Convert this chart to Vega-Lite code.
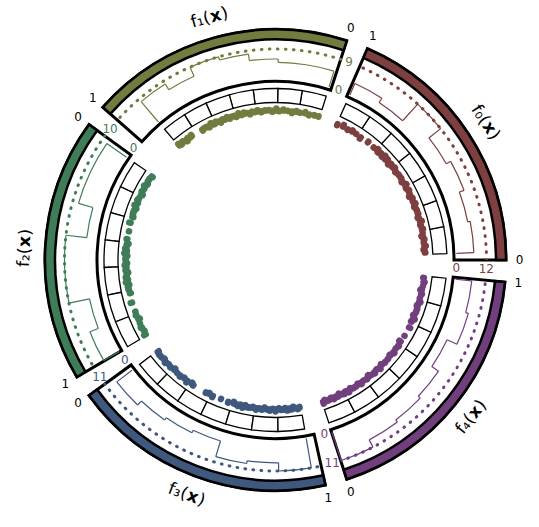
{
"$schema":"https://vega.github.io/schema/vega-lite/v6.json",
"width":527,"height":520,
"autosize":{"type":"none"},
"padding":{"left":12,"top":0,"right":0,"bottom":7},
"background":"white",
"config":{"view":{"stroke":null},"text":{"font":"DejaVu Sans"}},
"datasets":{
"sectors":[
{"s":"f0","max":12,"label":"f₀("},
{"s":"f1","max":9,"label":"f₁("},
{"s":"f2","max":10,"label":"f₂("},
{"s":"f3","max":11,"label":"f₃("},
{"s":"f4","max":11,"label":"f₄("}],
"bins":[
{"s":"f0","x0":0.032,"x1":0.169,"n":7},{"s":"f0","x0":0.169,"x1":0.305,"n":6},{"s":"f0","x0":0.305,"x1":0.442,"n":8},{"s":"f0","x0":0.442,"x1":0.579,"n":6},{"s":"f0","x0":0.579,"x1":0.716,"n":12},{"s":"f0","x0":0.716,"x1":0.852,"n":3},{"s":"f0","x0":0.852,"x1":0.989,"n":5},
{"s":"f1","x0":0.012,"x1":0.136,"n":5},{"s":"f1","x0":0.136,"x1":0.259,"n":5},{"s":"f1","x0":0.259,"x1":0.383,"n":6},{"s":"f1","x0":0.383,"x1":0.506,"n":8},{"s":"f1","x0":0.506,"x1":0.630,"n":9},{"s":"f1","x0":0.630,"x1":0.753,"n":6},{"s":"f1","x0":0.753,"x1":0.877,"n":8},
{"s":"f2","x0":0.021,"x1":0.161,"n":8},{"s":"f2","x0":0.161,"x1":0.300,"n":8},{"s":"f2","x0":0.300,"x1":0.440,"n":3},{"s":"f2","x0":0.440,"x1":0.579,"n":10},{"s":"f2","x0":0.579,"x1":0.719,"n":10},{"s":"f2","x0":0.719,"x1":0.859,"n":3},{"s":"f2","x0":0.859,"x1":0.998,"n":6},
{"s":"f3","x0":0.023,"x1":0.157,"n":7},{"s":"f3","x0":0.157,"x1":0.290,"n":5},{"s":"f3","x0":0.290,"x1":0.424,"n":4},{"s":"f3","x0":0.424,"x1":0.558,"n":3},{"s":"f3","x0":0.558,"x1":0.691,"n":9},{"s":"f3","x0":0.691,"x1":0.825,"n":8},{"s":"f3","x0":0.825,"x1":0.959,"n":11},
{"s":"f4","x0":0.002,"x1":0.143,"n":11},{"s":"f4","x0":0.143,"x1":0.285,"n":8},{"s":"f4","x0":0.285,"x1":0.426,"n":7},{"s":"f4","x0":0.426,"x1":0.567,"n":6},{"s":"f4","x0":0.567,"x1":0.708,"n":3},{"s":"f4","x0":0.708,"x1":0.850,"n":7},{"s":"f4","x0":0.850,"x1":0.991,"n":6}],
"edges":[
{"s":"f0","x":0.032,"a":0,"b":7},{"s":"f0","x":0.169,"a":7,"b":6},{"s":"f0","x":0.305,"a":6,"b":8},{"s":"f0","x":0.442,"a":8,"b":6},{"s":"f0","x":0.579,"a":6,"b":12},{"s":"f0","x":0.716,"a":12,"b":3},{"s":"f0","x":0.852,"a":3,"b":5},{"s":"f0","x":0.989,"a":5,"b":0},
{"s":"f1","x":0.012,"a":0,"b":5},{"s":"f1","x":0.136,"a":5,"b":5},{"s":"f1","x":0.259,"a":5,"b":6},{"s":"f1","x":0.383,"a":6,"b":8},{"s":"f1","x":0.506,"a":8,"b":9},{"s":"f1","x":0.630,"a":9,"b":6},{"s":"f1","x":0.753,"a":6,"b":8},{"s":"f1","x":0.877,"a":8,"b":0},
{"s":"f2","x":0.021,"a":0,"b":8},{"s":"f2","x":0.161,"a":8,"b":8},{"s":"f2","x":0.300,"a":8,"b":3},{"s":"f2","x":0.440,"a":3,"b":10},{"s":"f2","x":0.579,"a":10,"b":10},{"s":"f2","x":0.719,"a":10,"b":3},{"s":"f2","x":0.859,"a":3,"b":6},{"s":"f2","x":0.998,"a":6,"b":0},
{"s":"f3","x":0.023,"a":0,"b":7},{"s":"f3","x":0.157,"a":7,"b":5},{"s":"f3","x":0.290,"a":5,"b":4},{"s":"f3","x":0.424,"a":4,"b":3},{"s":"f3","x":0.558,"a":3,"b":9},{"s":"f3","x":0.691,"a":9,"b":8},{"s":"f3","x":0.825,"a":8,"b":11},{"s":"f3","x":0.959,"a":11,"b":0},
{"s":"f4","x":0.002,"a":0,"b":11},{"s":"f4","x":0.143,"a":11,"b":8},{"s":"f4","x":0.285,"a":8,"b":7},{"s":"f4","x":0.426,"a":7,"b":6},{"s":"f4","x":0.567,"a":6,"b":3},{"s":"f4","x":0.708,"a":3,"b":7},{"s":"f4","x":0.850,"a":7,"b":6},{"s":"f4","x":0.991,"a":6,"b":0}],
"pts":[
{"s":"f0","x":0.042,"j":0.3},{"s":"f0","x":0.060,"j":-0.6},{"s":"f0","x":0.081,"j":0.8},{"s":"f0","x":0.099,"j":-0.2},{"s":"f0","x":0.120,"j":0.5},{"s":"f0","x":0.139,"j":-0.9},{"s":"f0","x":0.160,"j":0.15},
{"s":"f0","x":0.180,"j":0.7},{"s":"f0","x":0.203,"j":-0.4},{"s":"f0","x":0.224,"j":1.0},{"s":"f0","x":0.248,"j":-0.7},{"s":"f0","x":0.271,"j":0.35},{"s":"f0","x":0.293,"j":0.3},
{"s":"f0","x":0.313,"j":-0.6},{"s":"f0","x":0.331,"j":0.8},{"s":"f0","x":0.347,"j":-0.2},{"s":"f0","x":0.365,"j":0.5},{"s":"f0","x":0.381,"j":-0.9},{"s":"f0","x":0.399,"j":0.15},{"s":"f0","x":0.416,"j":0.7},{"s":"f0","x":0.433,"j":-0.4},
{"s":"f0","x":0.453,"j":1.0},{"s":"f0","x":0.476,"j":-0.7},{"s":"f0","x":0.498,"j":0.35},{"s":"f0","x":0.521,"j":0.3},{"s":"f0","x":0.544,"j":-0.6},{"s":"f0","x":0.567,"j":0.8},
{"s":"f0","x":0.584,"j":-0.2},{"s":"f0","x":0.596,"j":0.5},{"s":"f0","x":0.607,"j":-0.9},{"s":"f0","x":0.619,"j":0.15},{"s":"f0","x":0.630,"j":0.7},{"s":"f0","x":0.641,"j":-0.4},{"s":"f0","x":0.653,"j":1.0},{"s":"f0","x":0.664,"j":-0.7},{"s":"f0","x":0.676,"j":0.35},{"s":"f0","x":0.687,"j":0.3},{"s":"f0","x":0.698,"j":-0.6},{"s":"f0","x":0.710,"j":0.8},
{"s":"f0","x":0.735,"j":-0.2},{"s":"f0","x":0.780,"j":0.5},{"s":"f0","x":0.830,"j":-0.9},
{"s":"f0","x":0.862,"j":0.15},{"s":"f0","x":0.890,"j":0.7},{"s":"f0","x":0.918,"j":-0.4},{"s":"f0","x":0.950,"j":1.0},{"s":"f0","x":0.984,"j":-0.7},
{"s":"f1","x":0.020,"j":0.35},{"s":"f1","x":0.045,"j":0.3},{"s":"f1","x":0.075,"j":-0.6},{"s":"f1","x":0.100,"j":0.8},{"s":"f1","x":0.128,"j":-0.2},
{"s":"f1","x":0.150,"j":0.5},{"s":"f1","x":0.175,"j":-0.9},{"s":"f1","x":0.200,"j":0.15},{"s":"f1","x":0.225,"j":0.7},{"s":"f1","x":0.250,"j":-0.4},
{"s":"f1","x":0.266,"j":1.0},{"s":"f1","x":0.288,"j":-0.7},{"s":"f1","x":0.308,"j":0.35},{"s":"f1","x":0.330,"j":0.3},{"s":"f1","x":0.352,"j":-0.6},{"s":"f1","x":0.375,"j":0.8},
{"s":"f1","x":0.390,"j":-0.2},{"s":"f1","x":0.405,"j":0.5},{"s":"f1","x":0.420,"j":-0.9},{"s":"f1","x":0.436,"j":0.15},{"s":"f1","x":0.452,"j":0.7},{"s":"f1","x":0.468,"j":-0.4},{"s":"f1","x":0.484,"j":1.0},{"s":"f1","x":0.500,"j":-0.7},
{"s":"f1","x":0.512,"j":0.35},{"s":"f1","x":0.526,"j":0.3},{"s":"f1","x":0.540,"j":-0.6},{"s":"f1","x":0.554,"j":0.8},{"s":"f1","x":0.568,"j":-0.2},{"s":"f1","x":0.582,"j":0.5},{"s":"f1","x":0.596,"j":-0.9},{"s":"f1","x":0.610,"j":0.15},{"s":"f1","x":0.624,"j":0.7},
{"s":"f1","x":0.636,"j":-0.4},{"s":"f1","x":0.652,"j":1.0},{"s":"f1","x":0.668,"j":-0.7},{"s":"f1","x":0.684,"j":0.35},{"s":"f1","x":0.698,"j":0.3},{"s":"f1","x":0.712,"j":-0.6},
{"s":"f1","x":0.782,"j":0.8},{"s":"f1","x":0.795,"j":-0.2},{"s":"f1","x":0.808,"j":0.5},{"s":"f1","x":0.820,"j":-0.9},{"s":"f1","x":0.832,"j":0.15},{"s":"f1","x":0.845,"j":0.7},{"s":"f1","x":0.858,"j":-0.4},{"s":"f1","x":0.872,"j":1.0},
{"s":"f2","x":0.030,"j":-0.7},{"s":"f2","x":0.047,"j":0.35},{"s":"f2","x":0.064,"j":0.3},{"s":"f2","x":0.081,"j":-0.6},{"s":"f2","x":0.098,"j":0.8},{"s":"f2","x":0.115,"j":-0.2},{"s":"f2","x":0.133,"j":0.5},{"s":"f2","x":0.150,"j":-0.9},
{"s":"f2","x":0.170,"j":0.15},{"s":"f2","x":0.187,"j":0.7},{"s":"f2","x":0.204,"j":-0.4},{"s":"f2","x":0.221,"j":1.0},{"s":"f2","x":0.238,"j":-0.7},{"s":"f2","x":0.255,"j":0.35},{"s":"f2","x":0.272,"j":0.3},{"s":"f2","x":0.290,"j":-0.6},
{"s":"f2","x":0.325,"j":0.8},{"s":"f2","x":0.375,"j":-0.2},{"s":"f2","x":0.420,"j":0.5},
{"s":"f2","x":0.447,"j":-0.9},{"s":"f2","x":0.461,"j":0.15},{"s":"f2","x":0.475,"j":0.7},{"s":"f2","x":0.489,"j":-0.4},{"s":"f2","x":0.503,"j":1.0},{"s":"f2","x":0.517,"j":-0.7},{"s":"f2","x":0.531,"j":0.35},{"s":"f2","x":0.545,"j":0.3},{"s":"f2","x":0.559,"j":-0.6},{"s":"f2","x":0.572,"j":0.8},
{"s":"f2","x":0.586,"j":-0.2},{"s":"f2","x":0.600,"j":0.5},{"s":"f2","x":0.614,"j":-0.9},{"s":"f2","x":0.628,"j":0.15},{"s":"f2","x":0.642,"j":0.7},{"s":"f2","x":0.656,"j":-0.4},{"s":"f2","x":0.670,"j":1.0},{"s":"f2","x":0.684,"j":-0.7},{"s":"f2","x":0.698,"j":0.35},{"s":"f2","x":0.712,"j":0.3},
{"s":"f2","x":0.735,"j":-0.6},{"s":"f2","x":0.790,"j":0.8},{"s":"f2","x":0.845,"j":-0.2},
{"s":"f2","x":0.868,"j":0.5},{"s":"f2","x":0.893,"j":-0.9},{"s":"f2","x":0.918,"j":0.15},{"s":"f2","x":0.943,"j":0.7},{"s":"f2","x":0.967,"j":-0.4},{"s":"f2","x":0.990,"j":1.0},
{"s":"f3","x":0.030,"j":-0.7},{"s":"f3","x":0.048,"j":0.35},{"s":"f3","x":0.066,"j":0.3},{"s":"f3","x":0.085,"j":-0.6},{"s":"f3","x":0.104,"j":0.8},{"s":"f3","x":0.124,"j":-0.2},{"s":"f3","x":0.145,"j":0.5},
{"s":"f3","x":0.170,"j":-0.9},{"s":"f3","x":0.195,"j":0.15},{"s":"f3","x":0.220,"j":0.7},{"s":"f3","x":0.245,"j":-0.4},{"s":"f3","x":0.270,"j":1.0},
{"s":"f3","x":0.298,"j":-0.7},{"s":"f3","x":0.312,"j":0.35},{"s":"f3","x":0.395,"j":0.3},{"s":"f3","x":0.415,"j":-0.6},
{"s":"f3","x":0.440,"j":0.8},{"s":"f3","x":0.490,"j":-0.2},{"s":"f3","x":0.535,"j":0.5},
{"s":"f3","x":0.566,"j":-0.9},{"s":"f3","x":0.580,"j":0.15},{"s":"f3","x":0.594,"j":0.7},{"s":"f3","x":0.608,"j":-0.4},{"s":"f3","x":0.622,"j":1.0},{"s":"f3","x":0.636,"j":-0.7},{"s":"f3","x":0.650,"j":0.35},{"s":"f3","x":0.665,"j":0.3},{"s":"f3","x":0.680,"j":-0.6},
{"s":"f3","x":0.700,"j":0.8},{"s":"f3","x":0.716,"j":-0.2},{"s":"f3","x":0.732,"j":0.5},{"s":"f3","x":0.748,"j":-0.9},{"s":"f3","x":0.764,"j":0.15},{"s":"f3","x":0.780,"j":0.7},{"s":"f3","x":0.796,"j":-0.4},{"s":"f3","x":0.812,"j":1.0},
{"s":"f3","x":0.832,"j":-0.7},{"s":"f3","x":0.844,"j":0.35},{"s":"f3","x":0.856,"j":0.3},{"s":"f3","x":0.868,"j":-0.6},{"s":"f3","x":0.880,"j":0.8},{"s":"f3","x":0.892,"j":-0.2},{"s":"f3","x":0.904,"j":0.5},{"s":"f3","x":0.916,"j":-0.9},{"s":"f3","x":0.928,"j":0.15},{"s":"f3","x":0.940,"j":0.7},{"s":"f3","x":0.952,"j":-0.4},
{"s":"f4","x":0.008,"j":1.0},{"s":"f4","x":0.020,"j":-0.7},{"s":"f4","x":0.033,"j":0.35},{"s":"f4","x":0.046,"j":0.3},{"s":"f4","x":0.059,"j":-0.6},{"s":"f4","x":0.072,"j":0.8},{"s":"f4","x":0.085,"j":-0.2},{"s":"f4","x":0.098,"j":0.5},{"s":"f4","x":0.111,"j":-0.9},{"s":"f4","x":0.124,"j":0.15},{"s":"f4","x":0.137,"j":0.7},
{"s":"f4","x":0.150,"j":-0.4},{"s":"f4","x":0.167,"j":1.0},{"s":"f4","x":0.184,"j":-0.7},{"s":"f4","x":0.201,"j":0.35},{"s":"f4","x":0.218,"j":0.3},{"s":"f4","x":0.235,"j":-0.6},{"s":"f4","x":0.252,"j":0.8},{"s":"f4","x":0.270,"j":-0.2},
{"s":"f4","x":0.293,"j":0.5},{"s":"f4","x":0.312,"j":-0.9},{"s":"f4","x":0.331,"j":0.15},{"s":"f4","x":0.350,"j":0.7},{"s":"f4","x":0.370,"j":-0.4},{"s":"f4","x":0.390,"j":1.0},{"s":"f4","x":0.412,"j":-0.7},
{"s":"f4","x":0.435,"j":0.35},{"s":"f4","x":0.460,"j":0.3},{"s":"f4","x":0.485,"j":-0.6},{"s":"f4","x":0.510,"j":0.8},{"s":"f4","x":0.535,"j":-0.2},{"s":"f4","x":0.558,"j":0.5},
{"s":"f4","x":0.585,"j":-0.9},{"s":"f4","x":0.625,"j":0.15},{"s":"f4","x":0.680,"j":0.7},
{"s":"f4","x":0.716,"j":-0.4},{"s":"f4","x":0.735,"j":1.0},{"s":"f4","x":0.755,"j":-0.7},{"s":"f4","x":0.775,"j":0.35},{"s":"f4","x":0.795,"j":0.3},{"s":"f4","x":0.815,"j":-0.6},{"s":"f4","x":0.838,"j":0.8},
{"s":"f4","x":0.860,"j":-0.2},{"s":"f4","x":0.885,"j":0.5},{"s":"f4","x":0.908,"j":-0.9},{"s":"f4","x":0.930,"j":0.15},{"s":"f4","x":0.955,"j":0.7},{"s":"f4","x":0.980,"j":-0.4}]
},
"resolve":{"scale":{"theta":"independent","radius":"independent"}},
"layer":[
{"resolve":{"scale":{"radius":"independent"}},"layer":[
{"data":{"name":"sectors"},"transform":[{"filter":"datum.s=='f0'"}],"mark":{"type":"arc","fill":"white","stroke":"black","strokeWidth":3},"encoding":{"theta":{"datum":0,"type":"quantitative","scale":{"domain":[0,1],"range":[1.570796,0.410152]}},"theta2":{"datum":1},"radius":{"value":230.5},"radius2":{"value":178.5}}},
{"data":{"name":"sectors"},"transform":[{"filter":"datum.s=='f0'"}],"mark":{"type":"arc","fill":"#7d3f3f","stroke":"black","strokeWidth":2.5},"encoding":{"theta":{"datum":0,"type":"quantitative","scale":{"domain":[0,1],"range":[1.570796,0.410152]}},"theta2":{"datum":1},"radius":{"value":230.5},"radius2":{"value":220.5}}},
{"data":{"name":"sectors"},"transform":[{"filter":"datum.s=='f0'"}],"mark":{"type":"arc","filled":false,"stroke":"#7d3f3f","strokeWidth":3,"strokeDash":[0.5,7.5294],"strokeDashOffset":0.25,"strokeCap":"round"},"encoding":{"theta":{"datum":0,"type":"quantitative","scale":{"domain":[0,1],"range":[1.570796,0.410152]}},"theta2":{"datum":1},"radius":{"field":"max","type":"quantitative","scale":{"type":"linear","zero":false,"domain":[0,12],"range":[181,211]}},"radius2":{"field":"max"}}},
{"data":{"name":"bins"},"transform":[{"filter":"datum.s=='f0'"}],"mark":{"type":"arc","filled":false,"stroke":"#7d3f3f","strokeWidth":1.2},"encoding":{"theta":{"field":"x0","type":"quantitative","scale":{"domain":[0,1],"range":[1.570796,0.410152]}},"theta2":{"field":"x1"},"radius":{"field":"n","type":"quantitative","scale":{"type":"linear","zero":false,"domain":[0,12],"range":[181,211]}},"radius2":{"field":"n"}}},
{"data":{"name":"edges"},"transform":[{"filter":"datum.s=='f0'"}],"mark":{"type":"arc","filled":false,"stroke":"#7d3f3f","strokeWidth":1.2},"encoding":{"theta":{"field":"x","type":"quantitative","scale":{"domain":[0,1],"range":[1.570796,0.410152]}},"theta2":{"field":"x"},"radius":{"field":"a","type":"quantitative","scale":{"type":"linear","zero":false,"domain":[0,12],"range":[181,211]}},"radius2":{"field":"b"}}},
{"data":{"name":"bins"},"transform":[{"filter":"datum.s=='f0'"}],"mark":{"type":"arc","fill":"white","stroke":"black","strokeWidth":1.3},"encoding":{"theta":{"field":"x0","type":"quantitative","scale":{"domain":[0,1],"range":[1.570796,0.410152]}},"theta2":{"field":"x1"},"radius":{"value":171.5},"radius2":{"value":157.5}}},
{"data":{"name":"pts"},"transform":[{"filter":"datum.s=='f0'"}],"mark":{"type":"arc","filled":false,"stroke":"#7d3f3f","strokeWidth":6.3,"strokeCap":"round","strokeJoin":"round"},"encoding":{"theta":{"field":"x","type":"quantitative","scale":{"domain":[0,1],"range":[1.570796,0.410152]}},"theta2":{"field":"x"},"radius":{"field":"j","type":"quantitative","scale":{"type":"linear","zero":false,"domain":[-1,1],"range":[147.5,151.5]}},"radius2":{"value":149.5}}},
{"data":{"name":"sectors"},"transform":[{"filter":"datum.s=='f0'"}],"mark":{"type":"text","text":"1","fontSize":12,"color":"black"},"encoding":{"theta":{"datum":1,"type":"quantitative","scale":{"domain":[0,1],"range":[1.570796,0.410152]}},"radius":{"value":244}}},
{"data":{"name":"sectors"},"transform":[{"filter":"datum.s=='f0'"}],"mark":{"type":"text","text":"0","fontSize":12,"color":"black"},"encoding":{"theta":{"datum":0,"type":"quantitative","scale":{"domain":[0,1],"range":[1.570796,0.410152]}},"radius":{"value":244}}},
{"data":{"name":"sectors"},"transform":[{"filter":"datum.s=='f0'"}],"mark":{"type":"text","text":"0","fontSize":12,"color":"#7d3f3f"},"encoding":{"theta":{"datum":-0.036,"type":"quantitative","scale":{"domain":[0,1],"range":[1.570796,0.410152]}},"radius":{"datum":0,"type":"quantitative","scale":{"type":"linear","zero":false,"domain":[0,12],"range":[181,211]}}}},
{"data":{"name":"sectors"},"transform":[{"filter":"datum.s=='f0'"}],"mark":{"type":"text","fontSize":12,"color":"#7d3f3f"},"encoding":{"text":{"field":"max","type":"quantitative"},"theta":{"datum":-0.036,"type":"quantitative","scale":{"domain":[0,1],"range":[1.570796,0.410152]}},"radius":{"field":"max","type":"quantitative","scale":{"type":"linear","zero":false,"domain":[0,12],"range":[181,211]}}}},
{"data":{"name":"sectors"},"transform":[{"filter":"datum.s=='f0'"}],"mark":{"type":"text","fontSize":17,"angle":56.75,"align":"right","dx":0.4,"color":"black"},"encoding":{"text":{"field":"label"},"theta":{"datum":0.5,"type":"quantitative","scale":{"domain":[0,1],"range":[1.570796,0.410152]}},"radius":{"value":251}}},
{"data":{"name":"sectors"},"transform":[{"filter":"datum.s=='f0'"}],"mark":{"type":"text","text":"x","fontSize":17,"fontWeight":"bold","angle":56.75,"align":"center","dx":6.45,"color":"black"},"encoding":{"theta":{"datum":0.5,"type":"quantitative","scale":{"domain":[0,1],"range":[1.570796,0.410152]}},"radius":{"value":251}}},
{"data":{"name":"sectors"},"transform":[{"filter":"datum.s=='f0'"}],"mark":{"type":"text","text":")","fontSize":17,"angle":56.75,"align":"left","dx":12.5,"color":"black"},"encoding":{"theta":{"datum":0.5,"type":"quantitative","scale":{"domain":[0,1],"range":[1.570796,0.410152]}},"radius":{"value":251}}}
]},
{"resolve":{"scale":{"radius":"independent"}},"layer":[
{"data":{"name":"sectors"},"transform":[{"filter":"datum.s=='f1'"}],"mark":{"type":"arc","fill":"white","stroke":"black","strokeWidth":3},"encoding":{"theta":{"datum":0,"type":"quantitative","scale":{"domain":[0,1],"range":[0.314159,-0.846485]}},"theta2":{"datum":1},"radius":{"value":230.5},"radius2":{"value":178.5}}},
{"data":{"name":"sectors"},"transform":[{"filter":"datum.s=='f1'"}],"mark":{"type":"arc","fill":"#717d3f","stroke":"black","strokeWidth":2.5},"encoding":{"theta":{"datum":0,"type":"quantitative","scale":{"domain":[0,1],"range":[0.314159,-0.846485]}},"theta2":{"datum":1},"radius":{"value":230.5},"radius2":{"value":220.5}}},
{"data":{"name":"sectors"},"transform":[{"filter":"datum.s=='f1'"}],"mark":{"type":"arc","filled":false,"stroke":"#717d3f","strokeWidth":3,"strokeDash":[0.5,7.5294],"strokeDashOffset":0.25,"strokeCap":"round"},"encoding":{"theta":{"datum":0,"type":"quantitative","scale":{"domain":[0,1],"range":[0.314159,-0.846485]}},"theta2":{"datum":1},"radius":{"field":"max","type":"quantitative","scale":{"type":"linear","zero":false,"domain":[0,9],"range":[181,211]}},"radius2":{"field":"max"}}},
{"data":{"name":"bins"},"transform":[{"filter":"datum.s=='f1'"}],"mark":{"type":"arc","filled":false,"stroke":"#717d3f","strokeWidth":1.2},"encoding":{"theta":{"field":"x0","type":"quantitative","scale":{"domain":[0,1],"range":[0.314159,-0.846485]}},"theta2":{"field":"x1"},"radius":{"field":"n","type":"quantitative","scale":{"type":"linear","zero":false,"domain":[0,9],"range":[181,211]}},"radius2":{"field":"n"}}},
{"data":{"name":"edges"},"transform":[{"filter":"datum.s=='f1'"}],"mark":{"type":"arc","filled":false,"stroke":"#717d3f","strokeWidth":1.2},"encoding":{"theta":{"field":"x","type":"quantitative","scale":{"domain":[0,1],"range":[0.314159,-0.846485]}},"theta2":{"field":"x"},"radius":{"field":"a","type":"quantitative","scale":{"type":"linear","zero":false,"domain":[0,9],"range":[181,211]}},"radius2":{"field":"b"}}},
{"data":{"name":"bins"},"transform":[{"filter":"datum.s=='f1'"}],"mark":{"type":"arc","fill":"white","stroke":"black","strokeWidth":1.3},"encoding":{"theta":{"field":"x0","type":"quantitative","scale":{"domain":[0,1],"range":[0.314159,-0.846485]}},"theta2":{"field":"x1"},"radius":{"value":171.5},"radius2":{"value":157.5}}},
{"data":{"name":"pts"},"transform":[{"filter":"datum.s=='f1'"}],"mark":{"type":"arc","filled":false,"stroke":"#717d3f","strokeWidth":6.3,"strokeCap":"round","strokeJoin":"round"},"encoding":{"theta":{"field":"x","type":"quantitative","scale":{"domain":[0,1],"range":[0.314159,-0.846485]}},"theta2":{"field":"x"},"radius":{"field":"j","type":"quantitative","scale":{"type":"linear","zero":false,"domain":[-1,1],"range":[147.5,151.5]}},"radius2":{"value":149.5}}},
{"data":{"name":"sectors"},"transform":[{"filter":"datum.s=='f1'"}],"mark":{"type":"text","text":"1","fontSize":12,"color":"black"},"encoding":{"theta":{"datum":1,"type":"quantitative","scale":{"domain":[0,1],"range":[0.314159,-0.846485]}},"radius":{"value":244}}},
{"data":{"name":"sectors"},"transform":[{"filter":"datum.s=='f1'"}],"mark":{"type":"text","text":"0","fontSize":12,"color":"black"},"encoding":{"theta":{"datum":0,"type":"quantitative","scale":{"domain":[0,1],"range":[0.314159,-0.846485]}},"radius":{"value":244}}},
{"data":{"name":"sectors"},"transform":[{"filter":"datum.s=='f1'"}],"mark":{"type":"text","text":"0","fontSize":12,"color":"#717d3f"},"encoding":{"theta":{"datum":-0.036,"type":"quantitative","scale":{"domain":[0,1],"range":[0.314159,-0.846485]}},"radius":{"datum":0,"type":"quantitative","scale":{"type":"linear","zero":false,"domain":[0,9],"range":[181,211]}}}},
{"data":{"name":"sectors"},"transform":[{"filter":"datum.s=='f1'"}],"mark":{"type":"text","fontSize":12,"color":"#717d3f"},"encoding":{"text":{"field":"max","type":"quantitative"},"theta":{"datum":-0.036,"type":"quantitative","scale":{"domain":[0,1],"range":[0.314159,-0.846485]}},"radius":{"field":"max","type":"quantitative","scale":{"type":"linear","zero":false,"domain":[0,9],"range":[181,211]}}}},
{"data":{"name":"sectors"},"transform":[{"filter":"datum.s=='f1'"}],"mark":{"type":"text","fontSize":17,"angle":-15.25,"align":"right","dx":0.4,"color":"black"},"encoding":{"text":{"field":"label"},"theta":{"datum":0.5,"type":"quantitative","scale":{"domain":[0,1],"range":[0.314159,-0.846485]}},"radius":{"value":251}}},
{"data":{"name":"sectors"},"transform":[{"filter":"datum.s=='f1'"}],"mark":{"type":"text","text":"x","fontSize":17,"fontWeight":"bold","angle":-15.25,"align":"center","dx":6.45,"color":"black"},"encoding":{"theta":{"datum":0.5,"type":"quantitative","scale":{"domain":[0,1],"range":[0.314159,-0.846485]}},"radius":{"value":251}}},
{"data":{"name":"sectors"},"transform":[{"filter":"datum.s=='f1'"}],"mark":{"type":"text","text":")","fontSize":17,"angle":-15.25,"align":"left","dx":12.5,"color":"black"},"encoding":{"theta":{"datum":0.5,"type":"quantitative","scale":{"domain":[0,1],"range":[0.314159,-0.846485]}},"radius":{"value":251}}}
]},
{"resolve":{"scale":{"radius":"independent"}},"layer":[
{"data":{"name":"sectors"},"transform":[{"filter":"datum.s=='f2'"}],"mark":{"type":"arc","fill":"white","stroke":"black","strokeWidth":3},"encoding":{"theta":{"datum":0,"type":"quantitative","scale":{"domain":[0,1],"range":[5.340708,4.180064]}},"theta2":{"datum":1},"radius":{"value":230.5},"radius2":{"value":178.5}}},
{"data":{"name":"sectors"},"transform":[{"filter":"datum.s=='f2'"}],"mark":{"type":"arc","fill":"#3f7d58","stroke":"black","strokeWidth":2.5},"encoding":{"theta":{"datum":0,"type":"quantitative","scale":{"domain":[0,1],"range":[5.340708,4.180064]}},"theta2":{"datum":1},"radius":{"value":230.5},"radius2":{"value":220.5}}},
{"data":{"name":"sectors"},"transform":[{"filter":"datum.s=='f2'"}],"mark":{"type":"arc","filled":false,"stroke":"#3f7d58","strokeWidth":3,"strokeDash":[0.5,7.5294],"strokeDashOffset":0.25,"strokeCap":"round"},"encoding":{"theta":{"datum":0,"type":"quantitative","scale":{"domain":[0,1],"range":[5.340708,4.180064]}},"theta2":{"datum":1},"radius":{"field":"max","type":"quantitative","scale":{"type":"linear","zero":false,"domain":[0,10],"range":[181,211]}},"radius2":{"field":"max"}}},
{"data":{"name":"bins"},"transform":[{"filter":"datum.s=='f2'"}],"mark":{"type":"arc","filled":false,"stroke":"#3f7d58","strokeWidth":1.2},"encoding":{"theta":{"field":"x0","type":"quantitative","scale":{"domain":[0,1],"range":[5.340708,4.180064]}},"theta2":{"field":"x1"},"radius":{"field":"n","type":"quantitative","scale":{"type":"linear","zero":false,"domain":[0,10],"range":[181,211]}},"radius2":{"field":"n"}}},
{"data":{"name":"edges"},"transform":[{"filter":"datum.s=='f2'"}],"mark":{"type":"arc","filled":false,"stroke":"#3f7d58","strokeWidth":1.2},"encoding":{"theta":{"field":"x","type":"quantitative","scale":{"domain":[0,1],"range":[5.340708,4.180064]}},"theta2":{"field":"x"},"radius":{"field":"a","type":"quantitative","scale":{"type":"linear","zero":false,"domain":[0,10],"range":[181,211]}},"radius2":{"field":"b"}}},
{"data":{"name":"bins"},"transform":[{"filter":"datum.s=='f2'"}],"mark":{"type":"arc","fill":"white","stroke":"black","strokeWidth":1.3},"encoding":{"theta":{"field":"x0","type":"quantitative","scale":{"domain":[0,1],"range":[5.340708,4.180064]}},"theta2":{"field":"x1"},"radius":{"value":171.5},"radius2":{"value":157.5}}},
{"data":{"name":"pts"},"transform":[{"filter":"datum.s=='f2'"}],"mark":{"type":"arc","filled":false,"stroke":"#3f7d58","strokeWidth":6.3,"strokeCap":"round","strokeJoin":"round"},"encoding":{"theta":{"field":"x","type":"quantitative","scale":{"domain":[0,1],"range":[5.340708,4.180064]}},"theta2":{"field":"x"},"radius":{"field":"j","type":"quantitative","scale":{"type":"linear","zero":false,"domain":[-1,1],"range":[147.5,151.5]}},"radius2":{"value":149.5}}},
{"data":{"name":"sectors"},"transform":[{"filter":"datum.s=='f2'"}],"mark":{"type":"text","text":"1","fontSize":12,"color":"black"},"encoding":{"theta":{"datum":1,"type":"quantitative","scale":{"domain":[0,1],"range":[5.340708,4.180064]}},"radius":{"value":244}}},
{"data":{"name":"sectors"},"transform":[{"filter":"datum.s=='f2'"}],"mark":{"type":"text","text":"0","fontSize":12,"color":"black"},"encoding":{"theta":{"datum":0,"type":"quantitative","scale":{"domain":[0,1],"range":[5.340708,4.180064]}},"radius":{"value":244}}},
{"data":{"name":"sectors"},"transform":[{"filter":"datum.s=='f2'"}],"mark":{"type":"text","text":"0","fontSize":12,"color":"#3f7d58"},"encoding":{"theta":{"datum":-0.036,"type":"quantitative","scale":{"domain":[0,1],"range":[5.340708,4.180064]}},"radius":{"datum":0,"type":"quantitative","scale":{"type":"linear","zero":false,"domain":[0,10],"range":[181,211]}}}},
{"data":{"name":"sectors"},"transform":[{"filter":"datum.s=='f2'"}],"mark":{"type":"text","fontSize":12,"color":"#3f7d58"},"encoding":{"text":{"field":"max","type":"quantitative"},"theta":{"datum":-0.036,"type":"quantitative","scale":{"domain":[0,1],"range":[5.340708,4.180064]}},"radius":{"field":"max","type":"quantitative","scale":{"type":"linear","zero":false,"domain":[0,10],"range":[181,211]}}}},
{"data":{"name":"sectors"},"transform":[{"filter":"datum.s=='f2'"}],"mark":{"type":"text","fontSize":17,"angle":-87.25,"align":"right","dx":0.4,"color":"black"},"encoding":{"text":{"field":"label"},"theta":{"datum":0.5,"type":"quantitative","scale":{"domain":[0,1],"range":[5.340708,4.180064]}},"radius":{"value":251}}},
{"data":{"name":"sectors"},"transform":[{"filter":"datum.s=='f2'"}],"mark":{"type":"text","text":"x","fontSize":17,"fontWeight":"bold","angle":-87.25,"align":"center","dx":6.45,"color":"black"},"encoding":{"theta":{"datum":0.5,"type":"quantitative","scale":{"domain":[0,1],"range":[5.340708,4.180064]}},"radius":{"value":251}}},
{"data":{"name":"sectors"},"transform":[{"filter":"datum.s=='f2'"}],"mark":{"type":"text","text":")","fontSize":17,"angle":-87.25,"align":"left","dx":12.5,"color":"black"},"encoding":{"theta":{"datum":0.5,"type":"quantitative","scale":{"domain":[0,1],"range":[5.340708,4.180064]}},"radius":{"value":251}}}
]},
{"resolve":{"scale":{"radius":"independent"}},"layer":[
{"data":{"name":"sectors"},"transform":[{"filter":"datum.s=='f3'"}],"mark":{"type":"arc","fill":"white","stroke":"black","strokeWidth":3},"encoding":{"theta":{"datum":0,"type":"quantitative","scale":{"domain":[0,1],"range":[4.084070,2.923426]}},"theta2":{"datum":1},"radius":{"value":230.5},"radius2":{"value":178.5}}},
{"data":{"name":"sectors"},"transform":[{"filter":"datum.s=='f3'"}],"mark":{"type":"arc","fill":"#3f587d","stroke":"black","strokeWidth":2.5},"encoding":{"theta":{"datum":0,"type":"quantitative","scale":{"domain":[0,1],"range":[4.084070,2.923426]}},"theta2":{"datum":1},"radius":{"value":230.5},"radius2":{"value":220.5}}},
{"data":{"name":"sectors"},"transform":[{"filter":"datum.s=='f3'"}],"mark":{"type":"arc","filled":false,"stroke":"#3f587d","strokeWidth":3,"strokeDash":[0.5,7.5294],"strokeDashOffset":0.25,"strokeCap":"round"},"encoding":{"theta":{"datum":0,"type":"quantitative","scale":{"domain":[0,1],"range":[4.084070,2.923426]}},"theta2":{"datum":1},"radius":{"field":"max","type":"quantitative","scale":{"type":"linear","zero":false,"domain":[0,11],"range":[181,211]}},"radius2":{"field":"max"}}},
{"data":{"name":"bins"},"transform":[{"filter":"datum.s=='f3'"}],"mark":{"type":"arc","filled":false,"stroke":"#3f587d","strokeWidth":1.2},"encoding":{"theta":{"field":"x0","type":"quantitative","scale":{"domain":[0,1],"range":[4.084070,2.923426]}},"theta2":{"field":"x1"},"radius":{"field":"n","type":"quantitative","scale":{"type":"linear","zero":false,"domain":[0,11],"range":[181,211]}},"radius2":{"field":"n"}}},
{"data":{"name":"edges"},"transform":[{"filter":"datum.s=='f3'"}],"mark":{"type":"arc","filled":false,"stroke":"#3f587d","strokeWidth":1.2},"encoding":{"theta":{"field":"x","type":"quantitative","scale":{"domain":[0,1],"range":[4.084070,2.923426]}},"theta2":{"field":"x"},"radius":{"field":"a","type":"quantitative","scale":{"type":"linear","zero":false,"domain":[0,11],"range":[181,211]}},"radius2":{"field":"b"}}},
{"data":{"name":"bins"},"transform":[{"filter":"datum.s=='f3'"}],"mark":{"type":"arc","fill":"white","stroke":"black","strokeWidth":1.3},"encoding":{"theta":{"field":"x0","type":"quantitative","scale":{"domain":[0,1],"range":[4.084070,2.923426]}},"theta2":{"field":"x1"},"radius":{"value":171.5},"radius2":{"value":157.5}}},
{"data":{"name":"pts"},"transform":[{"filter":"datum.s=='f3'"}],"mark":{"type":"arc","filled":false,"stroke":"#3f587d","strokeWidth":6.3,"strokeCap":"round","strokeJoin":"round"},"encoding":{"theta":{"field":"x","type":"quantitative","scale":{"domain":[0,1],"range":[4.084070,2.923426]}},"theta2":{"field":"x"},"radius":{"field":"j","type":"quantitative","scale":{"type":"linear","zero":false,"domain":[-1,1],"range":[147.5,151.5]}},"radius2":{"value":149.5}}},
{"data":{"name":"sectors"},"transform":[{"filter":"datum.s=='f3'"}],"mark":{"type":"text","text":"1","fontSize":12,"color":"black"},"encoding":{"theta":{"datum":1,"type":"quantitative","scale":{"domain":[0,1],"range":[4.084070,2.923426]}},"radius":{"value":244}}},
{"data":{"name":"sectors"},"transform":[{"filter":"datum.s=='f3'"}],"mark":{"type":"text","text":"0","fontSize":12,"color":"black"},"encoding":{"theta":{"datum":0,"type":"quantitative","scale":{"domain":[0,1],"range":[4.084070,2.923426]}},"radius":{"value":244}}},
{"data":{"name":"sectors"},"transform":[{"filter":"datum.s=='f3'"}],"mark":{"type":"text","text":"0","fontSize":12,"color":"#3f587d"},"encoding":{"theta":{"datum":-0.036,"type":"quantitative","scale":{"domain":[0,1],"range":[4.084070,2.923426]}},"radius":{"datum":0,"type":"quantitative","scale":{"type":"linear","zero":false,"domain":[0,11],"range":[181,211]}}}},
{"data":{"name":"sectors"},"transform":[{"filter":"datum.s=='f3'"}],"mark":{"type":"text","fontSize":12,"color":"#3f587d"},"encoding":{"text":{"field":"max","type":"quantitative"},"theta":{"datum":-0.036,"type":"quantitative","scale":{"domain":[0,1],"range":[4.084070,2.923426]}},"radius":{"field":"max","type":"quantitative","scale":{"type":"linear","zero":false,"domain":[0,11],"range":[181,211]}}}},
{"data":{"name":"sectors"},"transform":[{"filter":"datum.s=='f3'"}],"mark":{"type":"text","fontSize":17,"angle":20.75,"align":"right","dx":0.4,"color":"black"},"encoding":{"text":{"field":"label"},"theta":{"datum":0.5,"type":"quantitative","scale":{"domain":[0,1],"range":[4.084070,2.923426]}},"radius":{"value":251}}},
{"data":{"name":"sectors"},"transform":[{"filter":"datum.s=='f3'"}],"mark":{"type":"text","text":"x","fontSize":17,"fontWeight":"bold","angle":20.75,"align":"center","dx":6.45,"color":"black"},"encoding":{"theta":{"datum":0.5,"type":"quantitative","scale":{"domain":[0,1],"range":[4.084070,2.923426]}},"radius":{"value":251}}},
{"data":{"name":"sectors"},"transform":[{"filter":"datum.s=='f3'"}],"mark":{"type":"text","text":")","fontSize":17,"angle":20.75,"align":"left","dx":12.5,"color":"black"},"encoding":{"theta":{"datum":0.5,"type":"quantitative","scale":{"domain":[0,1],"range":[4.084070,2.923426]}},"radius":{"value":251}}}
]},
{"resolve":{"scale":{"radius":"independent"}},"layer":[
{"data":{"name":"sectors"},"transform":[{"filter":"datum.s=='f4'"}],"mark":{"type":"arc","fill":"white","stroke":"black","strokeWidth":3},"encoding":{"theta":{"datum":0,"type":"quantitative","scale":{"domain":[0,1],"range":[2.827433,1.666789]}},"theta2":{"datum":1},"radius":{"value":230.5},"radius2":{"value":178.5}}},
{"data":{"name":"sectors"},"transform":[{"filter":"datum.s=='f4'"}],"mark":{"type":"arc","fill":"#713f7d","stroke":"black","strokeWidth":2.5},"encoding":{"theta":{"datum":0,"type":"quantitative","scale":{"domain":[0,1],"range":[2.827433,1.666789]}},"theta2":{"datum":1},"radius":{"value":230.5},"radius2":{"value":220.5}}},
{"data":{"name":"sectors"},"transform":[{"filter":"datum.s=='f4'"}],"mark":{"type":"arc","filled":false,"stroke":"#713f7d","strokeWidth":3,"strokeDash":[0.5,7.5294],"strokeDashOffset":0.25,"strokeCap":"round"},"encoding":{"theta":{"datum":0,"type":"quantitative","scale":{"domain":[0,1],"range":[2.827433,1.666789]}},"theta2":{"datum":1},"radius":{"field":"max","type":"quantitative","scale":{"type":"linear","zero":false,"domain":[0,11],"range":[181,211]}},"radius2":{"field":"max"}}},
{"data":{"name":"bins"},"transform":[{"filter":"datum.s=='f4'"}],"mark":{"type":"arc","filled":false,"stroke":"#713f7d","strokeWidth":1.2},"encoding":{"theta":{"field":"x0","type":"quantitative","scale":{"domain":[0,1],"range":[2.827433,1.666789]}},"theta2":{"field":"x1"},"radius":{"field":"n","type":"quantitative","scale":{"type":"linear","zero":false,"domain":[0,11],"range":[181,211]}},"radius2":{"field":"n"}}},
{"data":{"name":"edges"},"transform":[{"filter":"datum.s=='f4'"}],"mark":{"type":"arc","filled":false,"stroke":"#713f7d","strokeWidth":1.2},"encoding":{"theta":{"field":"x","type":"quantitative","scale":{"domain":[0,1],"range":[2.827433,1.666789]}},"theta2":{"field":"x"},"radius":{"field":"a","type":"quantitative","scale":{"type":"linear","zero":false,"domain":[0,11],"range":[181,211]}},"radius2":{"field":"b"}}},
{"data":{"name":"bins"},"transform":[{"filter":"datum.s=='f4'"}],"mark":{"type":"arc","fill":"white","stroke":"black","strokeWidth":1.3},"encoding":{"theta":{"field":"x0","type":"quantitative","scale":{"domain":[0,1],"range":[2.827433,1.666789]}},"theta2":{"field":"x1"},"radius":{"value":171.5},"radius2":{"value":157.5}}},
{"data":{"name":"pts"},"transform":[{"filter":"datum.s=='f4'"}],"mark":{"type":"arc","filled":false,"stroke":"#713f7d","strokeWidth":6.3,"strokeCap":"round","strokeJoin":"round"},"encoding":{"theta":{"field":"x","type":"quantitative","scale":{"domain":[0,1],"range":[2.827433,1.666789]}},"theta2":{"field":"x"},"radius":{"field":"j","type":"quantitative","scale":{"type":"linear","zero":false,"domain":[-1,1],"range":[147.5,151.5]}},"radius2":{"value":149.5}}},
{"data":{"name":"sectors"},"transform":[{"filter":"datum.s=='f4'"}],"mark":{"type":"text","text":"1","fontSize":12,"color":"black"},"encoding":{"theta":{"datum":1,"type":"quantitative","scale":{"domain":[0,1],"range":[2.827433,1.666789]}},"radius":{"value":244}}},
{"data":{"name":"sectors"},"transform":[{"filter":"datum.s=='f4'"}],"mark":{"type":"text","text":"0","fontSize":12,"color":"black"},"encoding":{"theta":{"datum":0,"type":"quantitative","scale":{"domain":[0,1],"range":[2.827433,1.666789]}},"radius":{"value":244}}},
{"data":{"name":"sectors"},"transform":[{"filter":"datum.s=='f4'"}],"mark":{"type":"text","text":"0","fontSize":12,"color":"#713f7d"},"encoding":{"theta":{"datum":-0.036,"type":"quantitative","scale":{"domain":[0,1],"range":[2.827433,1.666789]}},"radius":{"datum":0,"type":"quantitative","scale":{"type":"linear","zero":false,"domain":[0,11],"range":[181,211]}}}},
{"data":{"name":"sectors"},"transform":[{"filter":"datum.s=='f4'"}],"mark":{"type":"text","fontSize":12,"color":"#713f7d"},"encoding":{"text":{"field":"max","type":"quantitative"},"theta":{"datum":-0.036,"type":"quantitative","scale":{"domain":[0,1],"range":[2.827433,1.666789]}},"radius":{"field":"max","type":"quantitative","scale":{"type":"linear","zero":false,"domain":[0,11],"range":[181,211]}}}},
{"data":{"name":"sectors"},"transform":[{"filter":"datum.s=='f4'"}],"mark":{"type":"text","fontSize":17,"angle":-51.25,"align":"right","dx":0.4,"color":"black"},"encoding":{"text":{"field":"label"},"theta":{"datum":0.5,"type":"quantitative","scale":{"domain":[0,1],"range":[2.827433,1.666789]}},"radius":{"value":251}}},
{"data":{"name":"sectors"},"transform":[{"filter":"datum.s=='f4'"}],"mark":{"type":"text","text":"x","fontSize":17,"fontWeight":"bold","angle":-51.25,"align":"center","dx":6.45,"color":"black"},"encoding":{"theta":{"datum":0.5,"type":"quantitative","scale":{"domain":[0,1],"range":[2.827433,1.666789]}},"radius":{"value":251}}},
{"data":{"name":"sectors"},"transform":[{"filter":"datum.s=='f4'"}],"mark":{"type":"text","text":")","fontSize":17,"angle":-51.25,"align":"left","dx":12.5,"color":"black"},"encoding":{"theta":{"datum":0.5,"type":"quantitative","scale":{"domain":[0,1],"range":[2.827433,1.666789]}},"radius":{"value":251}}}
]}
]
}
